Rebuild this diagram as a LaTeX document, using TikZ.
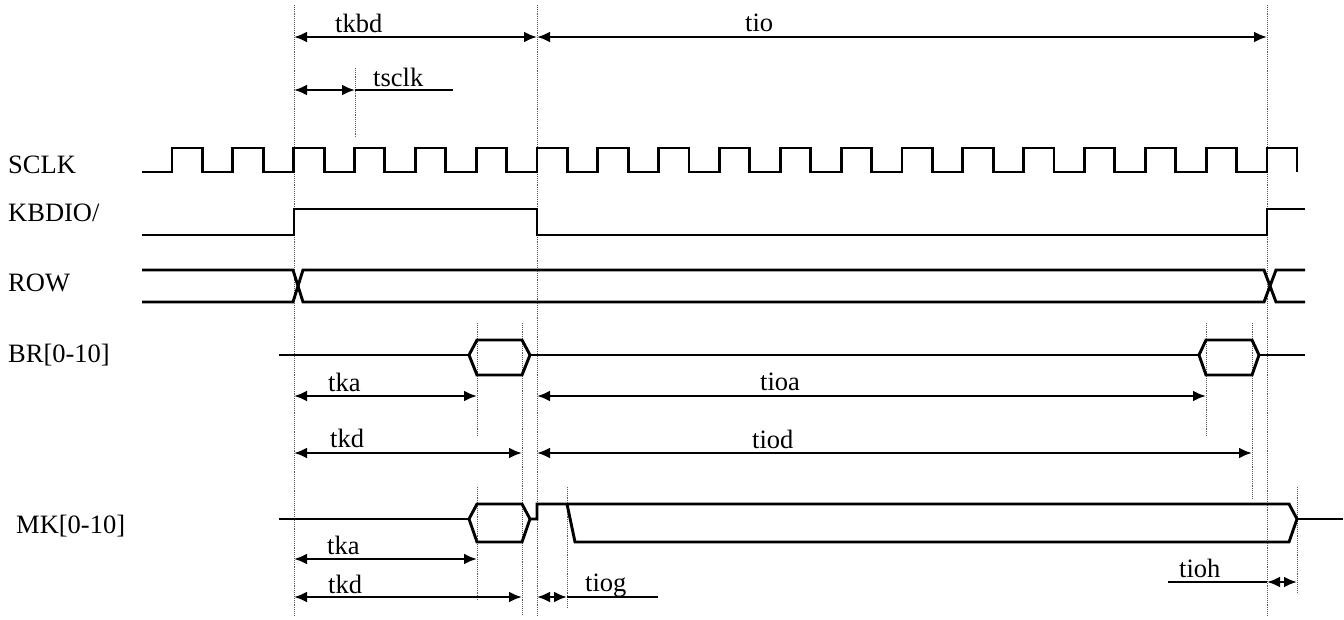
\documentclass[tikz,border=0pt]{standalone}
\usepackage{fontspec}
\setmainfont{Liberation Serif}
\usetikzlibrary{arrows.meta}
% time marks (px)
\def\xA{294}
\def\xS{355}
\def\xB{537}
\def\xC{1267}
\def\xKa{477}
\def\xKd{522}
\def\xIa{1206}
\def\xId{1252}
\def\xIg{567}
\def\xIh{1297}
\def\Tclk{60.83}
\tikzset{
  wave/.style={line width=2.9pt, line join=miter},
  guide/.style={densely dotted, gray!70!black, line width=0.9pt},
  span/.style={line width=2.4pt, {Latex[length=13pt,width=11pt]}-{Latex[length=13pt,width=11pt]}},
  rail/.style={line width=2.4pt},
  lbl/.style={anchor=base west, inner sep=0pt, font=\fontsize{26.5}{30}\selectfont},
}
\begin{document}
\begin{tikzpicture}[x=1pt, y=-1pt]
  \useasboundingbox (0,0) rectangle (1344,620);
  % guides
  \draw[guide] (\xA,5) -- (\xA,615);
  \draw[guide] (\xB,5) -- (\xB,615);
  \draw[guide] (\xC,5) -- (\xC,615);
  \draw[guide] (\xS,68) -- (\xS,137);
  \draw[guide] (\xKa,323) -- (\xKa,437);
  \draw[guide] (\xKa,487) -- (\xKa,600);
  \draw[guide] (\xKd,323) -- (\xKd,615);
  \draw[guide] (\xIa,323) -- (\xIa,437);
  \draw[guide] (\xId,323) -- (\xId,498);
  \draw[guide] (\xIg,487) -- (\xIg,608);
  \draw[guide] (\xIh,487) -- (\xIh,592);

  % signal names
  \node[lbl] (sclk) at (8,174) {SCLK};
  \node[lbl] (kbdio) at (8,222) {KBDIO/};
  \node[lbl] (row) at (8,292) {ROW};
  \node[lbl] (br) at (8,362) {BR[0-10]};
  \node[lbl] (mk) at (16,533) {MK[0-10]};

  % waveforms
  \draw[wave] (142,172) \foreach \k in {0,...,17}{
      -- ({172+\k*\Tclk},172) -- ++(0,-24) -- ++(30.4,0) -- ++(0,24)}
    -- (\xC,172) -- (\xC,148) -- (\xIh,148) -- (\xIh,172);
  \draw[wave] (142,235) -- (\xA,235) -- (\xA,209) -- (\xB,209) -- (\xB,235)
    -- (\xC,235) -- (\xC,209) -- (1305,209);
  \draw[wave] (142,270) -- (293,270) -- (303,302) -- (1264,302) -- (1276,270) -- (1305,270);
  \draw[wave] (142,302) -- (293,302) -- (303,270) -- (1264,270) -- (1276,302) -- (1305,302);
  \draw[wave] (279,355) -- (469,355);
  \draw[wave] (469,355) -- (\xKa,340) -- (\xKd,340) -- (530,355) -- (\xKd,375) -- (\xKa,375) -- cycle;
  \draw[wave] (530,355) -- (1199,355);
  \draw[wave] (1199,355) -- (\xIa,340) -- (\xId,340) -- (1259,355) -- (\xId,375) -- (\xIa,375) -- cycle;
  \draw[wave] (1259,355) -- (1305,355);
  \draw[wave] (279,519) -- (469,519);
  \draw[wave] (469,519) -- (\xKa,504) -- (\xKd,504) -- (530,519) -- (\xKd,542) -- (\xKa,542) -- cycle;
  \draw[wave] (530,519) -- (\xB,519) -- (\xB,504) -- (1289,504) -- (\xIh,519) -- (1289,542)
    -- (575,542) -- (\xIg,504);
  \draw[wave] (\xIh,519) -- (1343,519);

  % timing marks
  \coordinate (kbdL) at (\xA,37);
  \coordinate (kbdR) at (\xB,37);
  \coordinate (ioR) at (\xC,37);
  \coordinate (clkL) at (\xA,90);
  \coordinate (clkR) at (\xS,90);
  \coordinate (clkE) at (453,90);
  \coordinate (kaL) at (\xA,396);
  \coordinate (kaR) at (\xKa,396);
  \coordinate (ioaL) at (\xB,396);
  \coordinate (ioaR) at (\xIa,396);
  \coordinate (kdL) at (\xA,453);
  \coordinate (kdR) at (\xKd,453);
  \coordinate (iodL) at (\xB,453);
  \coordinate (iodR) at (\xId,453);
  \coordinate (mkaL) at (\xA,559);
  \coordinate (mkaR) at (\xKa,559);
  \coordinate (mkdL) at (\xA,597);
  \coordinate (mkdR) at (\xKd,597);
  \coordinate (iogL) at (\xB,597);
  \coordinate (iogR) at (\xIg,597);
  \coordinate (iogE) at (658,597);
  \coordinate (iohS) at (1168,582);
  \coordinate (iohL) at (\xC,582);
  \coordinate (iohR) at (\xIh,582);

  \draw[span] (kbdL) -- (kbdR);
  \draw[span] (kbdR) -- (ioR);
  \draw[span] (clkL) -- (clkR);
  \draw[rail] (clkR) -- (clkE);
  \draw[span] (kaL) -- (kaR);
  \draw[span] (ioaL) -- (ioaR);
  \draw[span] (kdL) -- (kdR);
  \draw[span] (iodL) -- (iodR);
  \draw[span] (mkaL) -- (mkaR);
  \draw[span] (mkdL) -- (mkdR);
  \draw[span] (iogL) -- (iogR);
  \draw[rail] (iogR) -- (iogE);
  \draw[rail] (iohS) -- (iohL);
  \draw[span] (iohL) -- (iohR);

  \node[lbl] (tkbd) at (335,33) {tkbd};
  \node[lbl] (tio) at (745,32) {tio};
  \node[lbl] (tsclk) at (373,87) {tsclk};
  \node[lbl] (tka) at (328,391) {tka};
  \node[lbl] (tioa) at (760,390) {tioa};
  \node[lbl] (tkd) at (330,447) {tkd};
  \node[lbl] (tiod) at (752,448) {tiod};
  \node[lbl] (tkamk) at (327,554) {tka};
  \node[lbl] (tkdmk) at (328,593) {tkd};
  \node[lbl] (tiog) at (585,591) {tiog};
  \node[lbl] (tioh) at (1179,577) {tioh};
\end{tikzpicture}
\end{document}
